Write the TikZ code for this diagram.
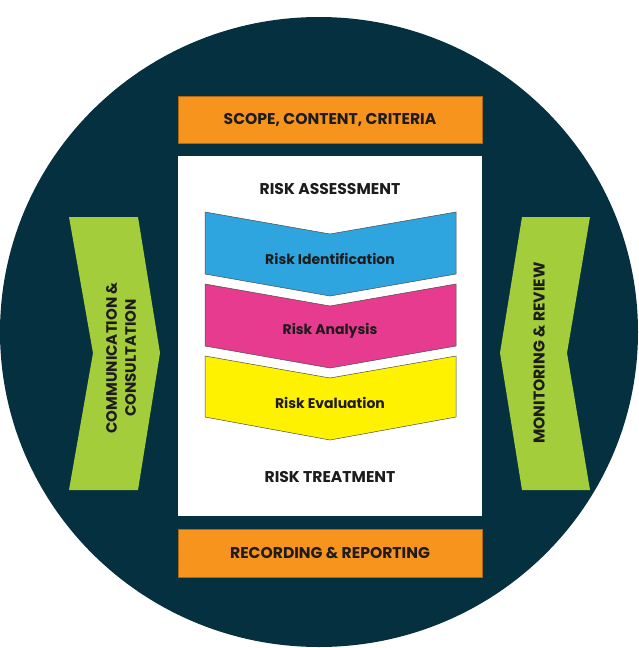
\documentclass[tikz,border=0pt]{standalone}
\usepackage{fontspec}
\setmainfont{Poppins}
\definecolor{navy}{HTML}{04303F}
\definecolor{orng}{HTML}{F7941D}
\definecolor{blu}{HTML}{2EA5DE}
\definecolor{pnk}{HTML}{E63B8E}
\definecolor{yel}{HTML}{FFF200}
\definecolor{grn}{HTML}{A3CD3B}
\definecolor{ink}{HTML}{1E1B1C}
\tikzset{
  lbl/.style={font=\bfseries\fontsize{15.6}{18}\selectfont, text=ink, inner sep=0pt},
  sidelbl/.style={font=\bfseries\fontsize{15}{19}\selectfont, text=ink, inner sep=0pt},
  sublbl/.style={font=\bfseries\fontsize{14}{16}\selectfont, text=ink, inner sep=0pt},
  chev/.style={draw=black!70, line width=0.5pt},
  bar/.style={fill=orng, draw=orng!70!black, line width=0.4pt},
}
\begin{document}
\begin{tikzpicture}[x=1pt,y=-1pt]
\useasboundingbox (0,0) rectangle (638,648);
\fill[navy] (319,332) ellipse [x radius=319, y radius=315];
% orange bars
\draw[bar] (178,96) rectangle (482,143);
\node[lbl] (scope) at (330,120) {SCOPE, CONTENT, CRITERIA};
\draw[bar] (178,529) rectangle (482,577);
\node[lbl] (rec) at (330,553) {RECORDING \& REPORTING};
% white panel
\fill[white] (178,156) rectangle (482,516);
\node[lbl] (ra) at (330,189) {RISK ASSESSMENT};
\node[lbl] (rt) at (330,477) {RISK TREATMENT};
% inner chevrons
\draw[chev, fill=blu] (205,212) -- (330,234) -- (456,212) -- (456,274) -- (330,296) -- (205,274) -- cycle;
\node[sublbl] (ri) at (330,259) {Risk Identification};
\draw[chev, fill=pnk] (205,284) -- (330,306) -- (456,284) -- (456,346) -- (330,368) -- (205,346) -- cycle;
\node[sublbl] (ran) at (330,331) {Risk Analysis};
\draw[chev, fill=yel] (205,356) -- (330,378) -- (456,356) -- (456,417) -- (330,440) -- (205,417) -- cycle;
\node[sublbl] (rev) at (330,403) {Risk Evaluation};
% side chevrons
\fill[grn] (69,217) -- (138,217) -- (160,353) -- (138,490) -- (69,490) -- (93,353) -- cycle;
\node[sidelbl, rotate=90, align=center] (cc) at (121,358) {COMMUNICATION \&\\CONSULTATION};
\fill[grn] (522,217) -- (590,217) -- (567,353) -- (590,490) -- (522,490) -- (500,353) -- cycle;
\node[lbl, rotate=90] (mr) at (539,353) {MONITORING \& REVIEW};
\end{tikzpicture}
\end{document}
